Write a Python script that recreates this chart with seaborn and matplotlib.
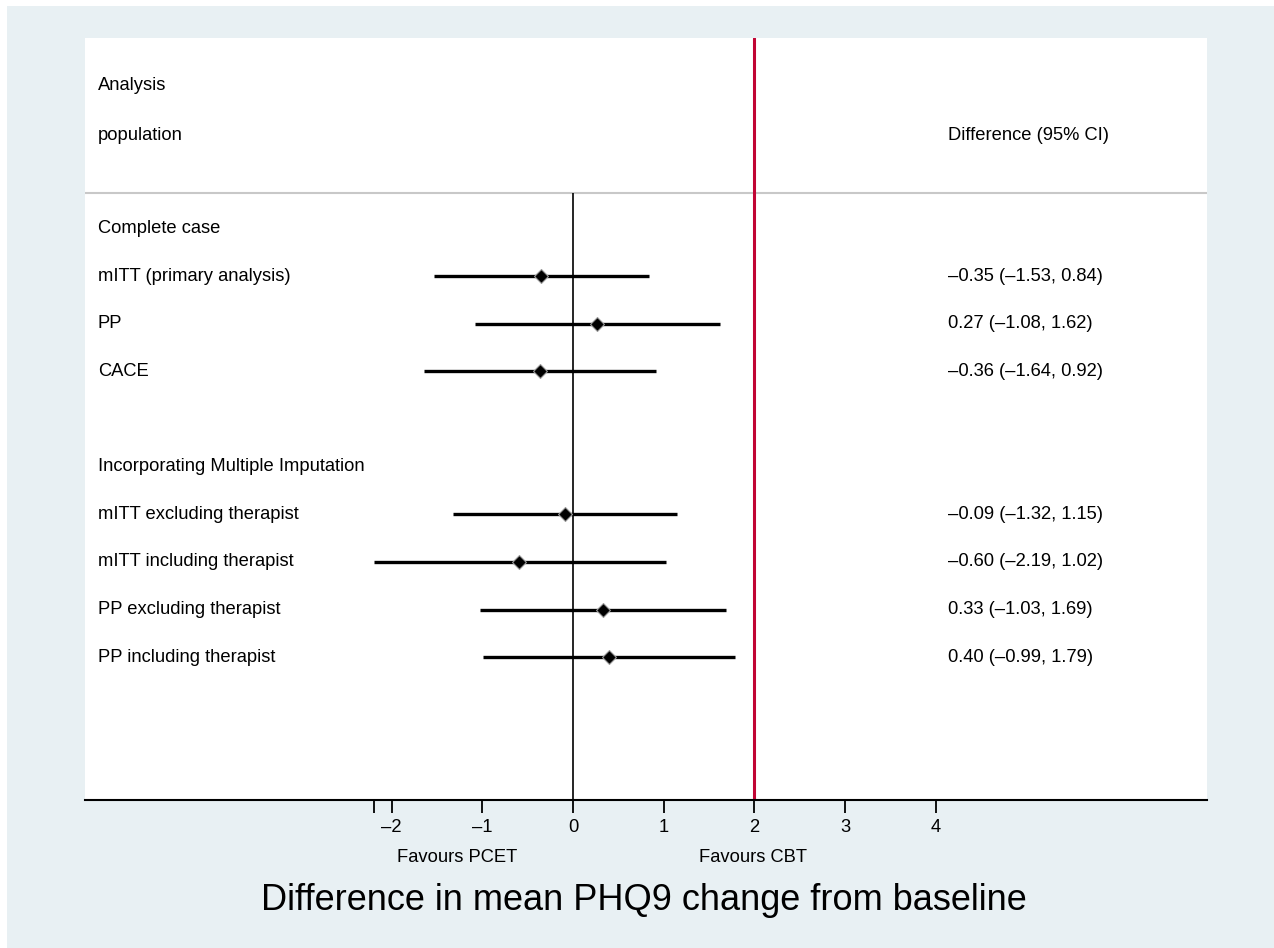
"""Forest plot: difference in mean PHQ9 change from baseline."""

import matplotlib.pyplot as plt
import matplotlib.patches as mpatches
import pandas as pd
import seaborn as sns

# data
labels = [
    "mITT (primary analysis)",
    "PP",
    "CACE",
    "mITT excluding therapist",
    "mITT including therapist",
    "PP excluding therapist",
    "PP including therapist",
]
rows = [1, 2, 3, 6, 7, 8, 9]
estimates = [-0.35, 0.27, -0.36, -0.09, -0.60, 0.33, 0.40]
lower = [-1.53, -1.08, -1.64, -1.32, -2.19, -1.03, -0.99]
upper = [0.84, 1.62, 0.92, 1.15, 1.02, 1.69, 1.79]

groups = ["Complete case", "Incorporating Multiple Imputation"]
group_rows = [0, 5]

tick_values = [-2.19, -2, -1, 0, 1, 2, 3, 4]
tick_labels = ["", "–2", "–1", "0", "1", "2", "3", "4"]

BG = "#e8f0f3"
RED = "#c10534"


def fmt(v):
    return f"{v:.2f}".replace("-", "–")


df = pd.DataFrame(
    {"label": labels, "row": rows, "est": estimates, "lo": lower, "hi": upper}
)
df["text"] = [
    f"{fmt(e)} ({fmt(l)}, {fmt(h)})" for e, l, h in zip(df.est, df.lo, df.hi)
]

sns.set_style("white")
plt.rcParams["font.family"] = ["Liberation Sans", "DejaVu Sans"]
plt.rcParams["text.color"] = "black"
plt.rcParams["xtick.color"] = "black"

fig = plt.figure(figsize=(12.74, 9.48), dpi=100, facecolor="white")
fig.patches.append(
    mpatches.Rectangle(
        (7 / 1274, 0), 1, 1 - 6 / 948, transform=fig.transFigure,
        facecolor=BG, edgecolor="none", zorder=-1,
    )
)
ax = fig.add_axes([85 / 1274, 1 - 800 / 948, 1122 / 1274, 762 / 948])
ax.set_facecolor("white")

xmin, xmax = -5.38, 6.99
ax.set_xlim(xmin, xmax)
ax.set_ylim(12, -4)

# reference lines
ax.axhline(-0.75, color="#c8c8c8", lw=1.5, zorder=1)
ax.vlines(0, -0.75, 12, color="black", lw=1.2, zorder=2)
ax.axvline(2, color=RED, lw=2.2, zorder=2)

# confidence intervals and point estimates
ax.hlines(df.row, df.lo, df.hi, color="black", lw=2.4, zorder=3)
sns.scatterplot(
    data=df, x="est", y="row", marker="D", s=50, color="black",
    edgecolor="#9a9a9a", linewidth=0.8, zorder=4, ax=ax, legend=False,
)

# text columns
tx_left, tx_right = -5.24, 4.13
fs = 13.2
ax.text(tx_left, -3, "Analysis", fontsize=fs, va="center")
ax.text(tx_left, -1.95, "population", fontsize=fs, va="center")
ax.text(tx_right, -1.95, "Difference (95% CI)", fontsize=fs, va="center")
for g, r in zip(groups, group_rows):
    ax.text(tx_left, r, g, fontsize=fs, va="center")
for _, d in df.iterrows():
    ax.text(tx_left, d.row, d.label, fontsize=fs, va="center")
    ax.text(tx_right, d.row, d.text, fontsize=fs, va="center")

# axes styling
for side in ["top", "right", "left"]:
    ax.spines[side].set_visible(False)
ax.spines["bottom"].set_linewidth(1.5)
ax.spines["bottom"].set_color("black")
ax.set_yticks([])
ax.set_xticks(tick_values)
ax.set_xticklabels(tick_labels, fontsize=fs)
ax.tick_params(axis="x", direction="out", length=9, width=1.3, pad=5,
               bottom=True, color="black")
ax.set_xlabel("")
ax.set_ylabel("")

ax.text(-1.28, 13.2, "Favours PCET", fontsize=fs, ha="center", va="center")
ax.text(1.98, 13.2, "Favours CBT", fontsize=fs, ha="center", va="center")
ax.text(0.78, 14.1, "Difference in mean PHQ9 change from baseline",
        fontsize=26, ha="center", va="center", clip_on=False)

fig.savefig("out.png", dpi=100, facecolor=fig.get_facecolor())
